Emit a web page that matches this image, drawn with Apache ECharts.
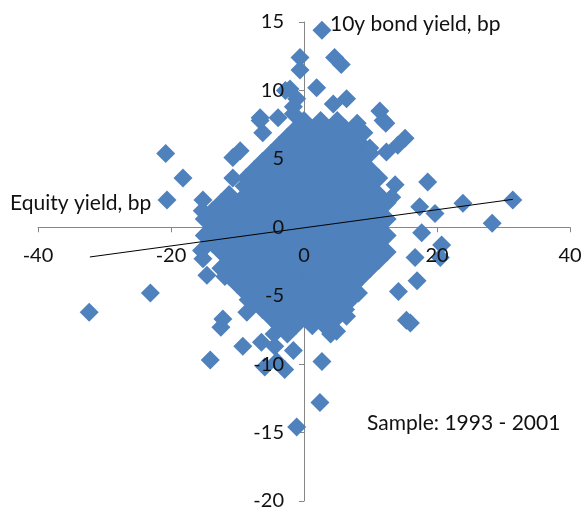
<!DOCTYPE html>
<html><head><meta charset="utf-8">
<script src="https://cdn.jsdelivr.net/npm/echarts@6.0.0/dist/echarts.min.js"></script>
<style>html,body{margin:0;padding:0;background:#fff}#c{width:584px;height:511px}</style>
</head><body><div id="c"></div>
<script>
// Axis ticks
const xTickValues = [-40, -20, 0, 20, 40];
const yTickValues = [-20, -15, -10, -5, 0, 5, 10, 15];

// Dense core of the cloud: each row = [bond yield change, [equity yield changes...]]
const coreRows = [
  [7.8,  [0, 2.5, 5]],
  [7.2,  [-1.25, 1.25, 3.75, 6.25]],
  [6.6,  [-2.5, 0, 2.5, 5, 7.5]],
  [6.0,  [-3.75, -1.25, 1.25, 3.75, 6.25, 8.75]],
  [5.4,  [-5, -2.5, 0, 2.5, 5, 7.5, 10]],
  [4.8,  [-6.25, -3.75, -1.25, 1.25, 3.75, 6.25, 8.75]],
  [4.2,  [-7.5, -5, -2.5, 0, 2.5, 5, 7.5, 10]],
  [3.6,  [-8.75, -6.25, -3.75, -1.25, 1.25, 3.75, 6.25, 8.75, 11.25]],
  [3.0,  [-9, -7.5, -5, -2.5, 0, 2.5, 5, 7.5, 10]],
  [2.4,  [-11.25, -8.75, -6.25, -3.75, -1.25, 1.25, 3.75, 6.25, 8.75, 11.25]],
  [1.8,  [-12.5, -10, -7.5, -5, -2.5, 0, 2.5, 5, 7.5, 10, 12.5]],
  [1.2,  [-13.75, -11.25, -8.75, -6.25, -3.75, -1.25, 1.25, 3.75, 6.25, 8.75, 11.25]],
  [0.6,  [-15, -12.5, -10, -7.5, -5, -2.5, 0, 2.5, 5, 7.5, 10, 12.5]],
  [0.0,  [-13.75, -11.25, -8.75, -6.25, -3.75, -1.25, 1.25, 3.75, 6.25, 8.75, 11.25]],
  [-0.6, [-15, -12.5, -10, -7.5, -5, -2.5, 0, 2.5, 5, 7.5, 10, 12.5]],
  [-1.2, [-13.75, -11.25, -8.75, -6.25, -3.75, -1.25, 1.25, 3.75, 6.25, 8.75, 11.25]],
  [-1.8, [-12.5, -10, -7.5, -5, -2.5, 0, 2.5, 5, 7.5, 10, 12.5]],
  [-2.4, [-11.25, -8.75, -6.25, -3.75, -1.25, 1.25, 3.75, 6.25, 8.75, 11.25]],
  [-3.0, [-12.5, -10, -7.5, -5, -2.5, 0, 2.5, 5, 7.5, 10]],
  [-3.6, [-11.25, -8.75, -6.25, -3.75, -1.25, 1.25, 3.75, 6.25, 8.75]],
  [-4.2, [-10, -7.5, -5, -2.5, 0, 2.5, 5, 7.5]],
  [-4.8, [-8.75, -6.25, -3.75, -1.25, 1.25, 3.75, 6.25]],
  [-5.4, [-7.5, -5, -2.5, 0, 2.5, 5, 6.8]],
  [-6.0, [-6.25, -3.75, -1.25, 1.25, 3.75, 6.25]],
  [-6.6, [-5, -2.5, 0, 2.5, 5]],
  [-7.2, [-3.75, -1.25, 1.25, 3.75]],
  [-7.8, [-4.5, -2.5, 4]]
];

// Scattered points around the core: [equity yield, bond yield]
const outerPoints = [
  [2.7, 14.4], [-0.6, 12.4], [-0.6, 11.5], [4.6, 12.4], [5.6, 11.9], [1.9, 10.2],
  [-2.1, 10.1], [-2.8, 10.0], [-1.1, 9.4], [-1.6, 8.8], [6.4, 9.4], [4.4, 9.0],
  [11.4, 8.5], [11.9, 7.8], [12.3, 7.6], [-6.6, 8.0], [-3.9, 8.0], [-1.6, 8.3],
  [-6.2, 6.9], [-6.6, 7.8], [8.0, 7.6], [9.0, 6.9],
  [15.2, 6.5], [14.1, 6.0], [12.4, 5.5], [9.9, 5.8],
  [-20.8, 5.4], [-18.2, 3.6], [-20.6, 2.0], [-15.2, 2.0], [-15.3, 1.2],
  [-9.6, 5.6], [-10.7, 5.1], [-7.8, 3.9], [-10.7, 3.6],
  [18.6, 3.3], [13.7, 3.1], [13.2, 2.2], [17.4, 1.5], [19.7, 1.0], [17.7, -0.4],
  [23.9, 1.75], [31.4, 2.0], [28.3, 0.3],
  [-15.4, -1.7], [-15.2, -2.3], [-14.6, -3.5], [-11.9, -3.6],
  [-8.4, -5.3], [-8.6, -6.2], [-6.4, -8.4], [-4.4, -8.7], [-1.6, -9.0],
  [-5.9, -10.2], [-2.9, -10.4], [-4.1, -9.8], [-9.2, -8.7], [-14.1, -9.7],
  [-12.2, -6.7], [-12.5, -7.3], [-23.1, -4.8], [-32.3, -6.2],
  [-1.1, -14.6], [2.4, -12.8], [2.7, -9.8],
  [20.5, -2.2], [20.7, -1.3], [16.7, -2.2], [17.0, -3.9], [14.2, -4.7],
  [8.2, -4.8], [15.4, -6.8], [16.0, -7.0], [4.9, -7.6], [6.4, -6.5], [3.5, -7.4]
];

// Linear trend line end points: [equity yield, bond yield]
const trendLine = [[-32.2, -2.17], [31.4, 2.04]];

const texts = {
  yTitle: '10y bond yield, bp',
  xTitle: 'Equity yield, bp',
  note: 'Sample: 1993 - 2001'
};

const scatterData = [];
coreRows.forEach(function (row) {
  row[1].forEach(function (x) { scatterData.push([x, row[0]]); });
});
outerPoints.forEach(function (p) { scatterData.push(p); });

const FONT = 'Lato, "Open Sans", sans-serif';
const AX = '#868686';
const GRID = { left: 38, right: 14, top: 22, bottom: 10 };
const W = 584, H = 511;
const plotW = W - GRID.left - GRID.right, plotH = H - GRID.top - GRID.bottom;
// distance of the zero lines from the grid edges (layout only)
const zeroFromLeft = plotW * (0 - xTickValues[0]) / (xTickValues[xTickValues.length - 1] - xTickValues[0]);
const zeroFromBottom = plotH * (0 - yTickValues[0]) / (yTickValues[yTickValues.length - 1] - yTickValues[0]);

const chart = echarts.init(document.getElementById('c'));
chart.setOption({
  animation: false,
  backgroundColor: '#fff',
  grid: { left: GRID.left, right: GRID.right, top: GRID.top, bottom: GRID.bottom, containLabel: false, outerBoundsMode: 'none' },
  xAxis: [
    { type: 'value', min: xTickValues[0], max: xTickValues[xTickValues.length - 1], interval: 20,
      position: 'bottom',
      axisLine: { show: true, onZero: true, lineStyle: { color: AX, width: 1 } },
      axisTick: { show: true, length: 5, lineStyle: { color: AX } },
      axisLabel: { show: false }, splitLine: { show: false } },
    { type: 'value', min: xTickValues[0], max: xTickValues[xTickValues.length - 1], interval: 20,
      position: 'bottom', offset: -zeroFromBottom, z: 10,
      axisLine: { show: false, onZero: false },
      axisTick: { show: false },
      axisLabel: { show: true, margin: 18, fontSize: 20, color: '#111', fontFamily: FONT },
      splitLine: { show: false } }
  ],
  yAxis: [
    { type: 'value', min: yTickValues[0], max: yTickValues[yTickValues.length - 1], interval: 5,
      position: 'left',
      axisLine: { show: true, onZero: true, lineStyle: { color: AX, width: 1 } },
      axisTick: { show: true, length: 5, lineStyle: { color: AX } },
      axisLabel: { show: false }, splitLine: { show: false } },
    { type: 'value', min: yTickValues[0], max: yTickValues[yTickValues.length - 1], interval: 5,
      position: 'left', offset: -zeroFromLeft, z: 10,
      axisLine: { show: false, onZero: false },
      axisTick: { show: false },
      axisLabel: { show: true, margin: 20, fontSize: 20, color: '#111', fontFamily: FONT },
      splitLine: { show: false } }
  ],
  series: [
    { type: 'scatter', xAxisIndex: 0, yAxisIndex: 0, data: scatterData,
      symbol: 'diamond', symbolSize: 19, z: 2,
      itemStyle: { color: '#4F81BD', opacity: 1 } },
    { type: 'line', xAxisIndex: 0, yAxisIndex: 0, data: trendLine, symbol: 'none', z: 5,
      lineStyle: { color: '#000', width: 1 } }
  ],
  graphic: [
    { type: 'text', left: 330, top: 14, z: 20,
      style: { text: texts.yTitle, fontSize: 21, fontFamily: FONT, fill: '#111' } },
    { type: 'text', left: 10, top: 193, z: 20,
      style: { text: texts.xTitle, fontSize: 21, fontFamily: FONT, fill: '#111' } },
    { type: 'text', left: 367, top: 413, z: 20,
      style: { text: texts.note, fontSize: 21, fontFamily: FONT, fill: '#111' } }
  ]
});
</script></body></html>
